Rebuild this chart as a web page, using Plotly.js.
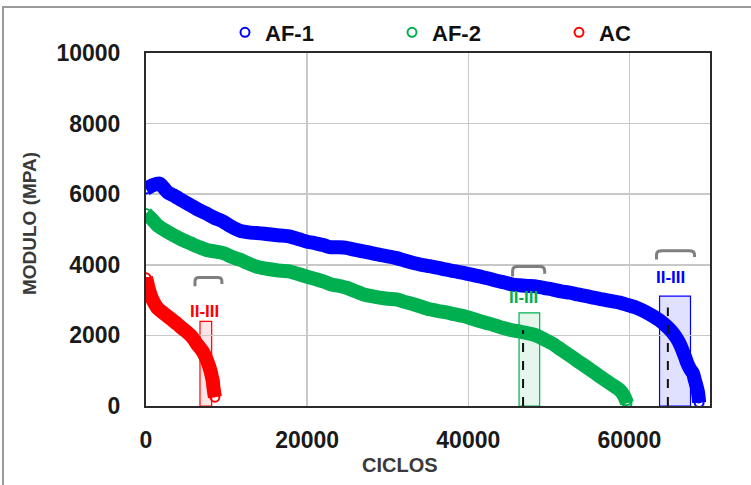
<!DOCTYPE html>
<html>
<head>
<meta charset="utf-8">
<script src="https://cdn.plot.ly/plotly-3.0.1.min.js"></script>
<style>
  html, body { margin: 0; padding: 0; background: #fff; }
  #chart { position: absolute; left: 0; top: 0; width: 751px; height: 485px; }
  #frame { position: absolute; left: 2px; top: 6px; width: 749px; height: 479px;
           border-left: 2px solid #9a9a9a; border-top: 2px solid #9a9a9a; pointer-events: none; box-sizing: border-box; }
</style>
</head>
<body>
<div id="chart"></div>
<div id="frame"></div>
<script>
// ---- data ----
const seriesNames = ['AF-1', 'AF-2', 'AC'];
const seriesColors = ['#0000FF', '#00B050', '#FF0000'];
const phaseFills = ['rgba(0,0,255,0.12)', 'rgba(0,176,80,0.10)', 'rgba(255,0,0,0.10)'];

const af1Cycles = [0, 800, 1700, 2700, 3400, 4500, 5500, 6500, 7500, 8500, 9600, 10600, 11700, 12700, 13700, 14700, 15800, 16800, 17900, 18900, 19900, 21000, 22000, 22800, 24000, 24900, 26000, 27000, 28000, 29000, 30000, 31100, 32100, 33200, 34200, 35200, 36300, 37300, 38300, 39400, 40400, 41400, 42500, 43500, 44500, 45500, 46400, 47300, 48400, 49500, 50500, 51500, 52600, 53600, 54700, 55700, 56700, 57800, 58800, 59800, 60800, 61900, 62900, 63700, 64500, 65200, 65800, 66200, 66600, 66900, 67200, 67500, 67900, 68100, 68300, 68500, 68600, 68650];
const af1Modulus = [6150, 6250, 6300, 6050, 5970, 5820, 5690, 5560, 5450, 5330, 5220, 5080, 4960, 4920, 4900, 4880, 4850, 4830, 4800, 4730, 4660, 4610, 4560, 4500, 4500, 4480, 4420, 4380, 4330, 4280, 4240, 4190, 4120, 4050, 4000, 3960, 3910, 3860, 3820, 3770, 3720, 3670, 3610, 3550, 3500, 3440, 3420, 3400, 3390, 3340, 3300, 3250, 3210, 3160, 3110, 3060, 3020, 2970, 2930, 2860, 2790, 2680, 2550, 2430, 2280, 2120, 1940, 1780, 1570, 1390, 1200, 1060, 920, 750, 590, 400, 230, 100];

const af2Cycles = [0, 700, 1400, 2400, 3400, 4400, 5500, 6500, 7500, 8500, 9600, 10600, 11700, 12700, 13700, 14700, 15800, 16800, 17900, 18900, 19900, 21000, 22000, 22900, 24000, 24900, 26000, 27000, 28000, 29000, 30000, 31100, 32100, 33200, 34200, 35200, 36300, 37300, 38300, 39400, 40400, 41400, 42500, 43500, 44500, 45500, 46400, 47400, 48400, 49500, 50500, 51500, 52600, 53600, 54700, 55700, 56700, 57800, 58800, 59300, 59600, 59700];
const af2Modulus = [5450, 5300, 5120, 4970, 4840, 4720, 4610, 4510, 4420, 4380, 4330, 4230, 4140, 4040, 3950, 3900, 3860, 3830, 3810, 3740, 3670, 3600, 3530, 3450, 3400, 3350, 3250, 3160, 3110, 3070, 3040, 3020, 2950, 2880, 2810, 2740, 2690, 2650, 2600, 2550, 2480, 2410, 2340, 2270, 2200, 2140, 2110, 2060, 2000, 1880, 1760, 1600, 1430, 1270, 1100, 940, 780, 610, 450, 300, 150, 80];

const acCycles = [0, 150, 300, 500, 700, 1000, 1400, 1900, 2400, 2900, 3400, 3900, 4400, 4900, 5500, 6000, 6300, 6700, 7100, 7500, 7750, 8000, 8150, 8300, 8350, 8450, 8550];
const acModulus = [3630, 3500, 3350, 3200, 3070, 2930, 2780, 2680, 2590, 2500, 2410, 2320, 2220, 2130, 2010, 1870, 1760, 1650, 1520, 1330, 1180, 1000, 850, 700, 560, 400, 250];

// phase II-III transition zones (AF-1, AF-2, AC)
const phaseStart = [63740, 46300, 6700];
const phaseEnd = [67580, 48860, 8150];
const phaseTop = [3110, 2640, 2400];
const transitionCycle = [64770, 46800, null];
const transitionModulus = [2790, 2150, null];
const phaseLabel = ['II-III', 'II-III', 'II-III'];
const labelCycle = [65100, 46900, 7320];
const labelModulus = [3640, 3080, 2690];
const bracketStart = [63360, 45500, 6080];
const bracketEnd = [68080, 49480, 9420];
const bracketTop = [4400, 3950, 3640];
const bracketFoot = [4150, 3670, 3390];

const xTicks = [0, 20000, 40000, 60000];
const yTicks = [0, 2000, 4000, 6000, 8000, 10000];

// ---- build traces ----
const xs = [af1Cycles, af2Cycles, acCycles];
const ys = [af1Modulus, af2Modulus, acModulus];
const traces = [];
for (let i = 0; i < 3; i++) {
  traces.push({
    x: xs[i], y: ys[i], type: 'scatter', mode: 'lines', showlegend: false, hoverinfo: 'skip',
    line: { color: seriesColors[i], width: 14, shape: 'spline', smoothing: 0.6 }
  });
}
for (let i = 0; i < 3; i++) {
  traces.push({
    x: xs[i], y: ys[i], type: 'scatter', mode: 'markers', name: seriesNames[i],
    marker: { symbol: 'circle-open', size: 9, color: seriesColors[i], line: { width: 2, color: seriesColors[i] } }
  });
}

const shapes = [];
const annotations = [];
for (let i = 0; i < 3; i++) {
  shapes.push({
    type: 'rect', xref: 'x', yref: 'y', x0: phaseStart[i], x1: phaseEnd[i], y0: 0, y1: phaseTop[i],
    fillcolor: phaseFills[i], line: { color: seriesColors[i], width: 1.2 }, layer: 'below'
  });
  if (transitionCycle[i] !== null) {
    shapes.push({
      type: 'line', xref: 'x', yref: 'y', x0: transitionCycle[i], x1: transitionCycle[i], y0: 0, y1: transitionModulus[i],
      line: { color: '#111', width: 2, dash: 'dash' }, layer: 'above'
    });
  }
  const x0 = bracketStart[i], x1 = bracketEnd[i], yt = bracketTop[i], yf = bracketFoot[i];
  const rx = (x1 - x0) * 0.15, ry = (yt - yf) * 0.45;
  shapes.push({
    type: 'path', xref: 'x', yref: 'y',
    path: `M ${x0},${yf} L ${x0},${yt - ry} Q ${x0},${yt} ${x0 + rx},${yt} L ${x1 - rx},${yt} Q ${x1},${yt} ${x1},${yt - ry} L ${x1},${yf + ry * 0.6}`,
    line: { color: '#7f7f7f', width: 3 }
  });
  annotations.push({
    xref: 'x', yref: 'y', x: labelCycle[i], y: labelModulus[i], text: phaseLabel[i], showarrow: false,
    xanchor: 'center', yanchor: 'middle',
    font: { family: 'Liberation Sans Narrow, Liberation Sans, Arial, sans-serif', size: 17, weight: 'bold', color: seriesColors[i] }
  });
}
// axis titles
annotations.push({
  xref: 'paper', yref: 'paper', x: (400 - 146) / 564, y: -(466 - 406) / 357, text: 'CICLOS', showarrow: false,
  xanchor: 'center', yanchor: 'middle',
  font: { family: 'Liberation Sans, Arial, sans-serif', size: 20, weight: 'bold', color: '#3a3a3a' }
});
annotations.push({
  xref: 'paper', yref: 'paper', x: (29 - 146) / 564, y: (406 - 222) / 357, text: 'MODULO (MPA)', showarrow: false,
  textangle: -90, xanchor: 'center', yanchor: 'middle',
  font: { family: 'Liberation Sans, Arial, sans-serif', size: 19, weight: 'bold', color: '#3a3a3a' }
});

const tickFont = { family: 'Liberation Sans, Arial, sans-serif', size: 23, weight: 'bold', color: '#1a1a1a' };
const layout = {
  width: 751, height: 485,
  margin: { l: 146, r: 41, t: 49, b: 79 },
  paper_bgcolor: 'rgba(0,0,0,0)', plot_bgcolor: '#fff',
  showlegend: true,
  legend: {
    orientation: 'h', x: (225 - 146) / 564, xanchor: 'left', y: (406 - 7) / 357, yanchor: 'top',
    entrywidth: 122, entrywidthmode: 'pixels',
    font: { family: 'Liberation Sans, Arial, sans-serif', size: 22, weight: 'bold', color: '#111' },
    bgcolor: 'rgba(0,0,0,0)', borderwidth: 0
  },
  xaxis: {
    range: [0, 70000], tickvals: xTicks, ticktext: xTicks.map(String),
    showgrid: true, gridcolor: '#c8c8c8', gridwidth: 1.5, zeroline: false,
    showline: true, mirror: true, linecolor: '#2a2a2a', linewidth: 2,
    ticks: '', ticklabelstandoff: 12, tickfont: tickFont
  },
  yaxis: {
    range: [0, 10000], tickvals: yTicks, ticktext: yTicks.map(String),
    showgrid: true, gridcolor: '#c8c8c8', gridwidth: 1.5, zeroline: false,
    showline: true, mirror: true, linecolor: '#2a2a2a', linewidth: 2,
    ticks: '', ticklabelstandoff: 19, tickfont: tickFont
  },
  shapes: shapes,
  annotations: annotations
};

Plotly.newPlot('chart', traces, layout, { displayModeBar: false, staticPlot: true });
</script>
</body>
</html>
